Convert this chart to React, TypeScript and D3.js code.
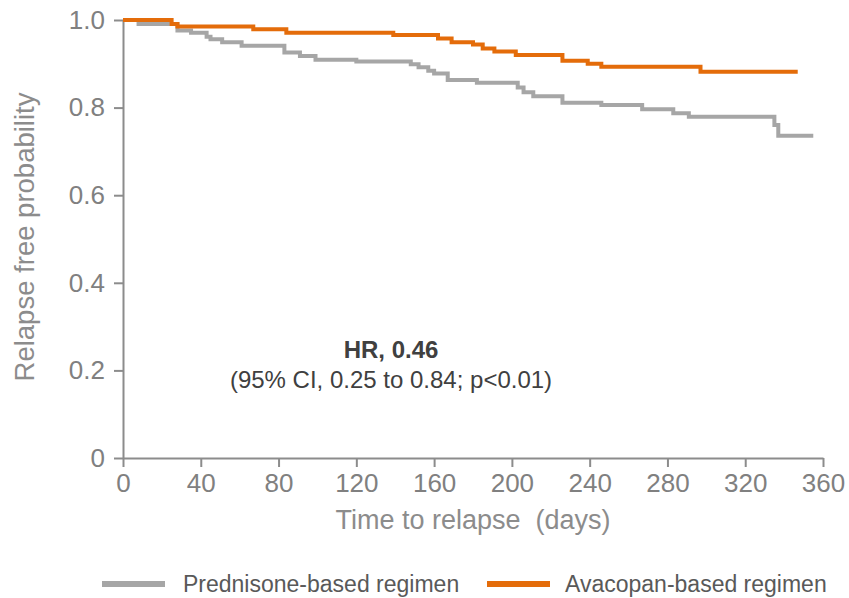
import React, { useEffect, useRef } from "react";
import * as d3 from "d3";

// Kaplan-Meier steps (day, survival)
const avacopanDays = [0, 25, 28, 67, 84, 139, 162, 169, 180, 185, 191, 202, 226, 239, 246, 297, 347];
const avacopanSurv = [1.0, 0.991, 0.985, 0.979, 0.971, 0.966, 0.958, 0.949, 0.944, 0.935, 0.928, 0.92, 0.907, 0.9, 0.893, 0.882, 0.882];

const prednisoneDays = [0, 8, 28, 35, 43, 45, 51, 61, 83, 91, 99, 120, 148, 152, 157, 160, 167, 182, 203, 206, 211, 226, 246, 267, 283, 291, 335, 337, 355];
const prednisoneSurv = [1.0, 0.991, 0.976, 0.971, 0.962, 0.956, 0.949, 0.941, 0.926, 0.918, 0.909, 0.905, 0.899, 0.892, 0.884, 0.878, 0.863, 0.857, 0.846, 0.835, 0.826, 0.811, 0.806, 0.796, 0.787, 0.779, 0.76, 0.736, 0.736];

const xTicks = [0, 40, 80, 120, 160, 200, 240, 280, 320, 360];
const yTicks = [0, 0.2, 0.4, 0.6, 0.8, 1.0];

const seriesNames = ["Prednisone-based regimen", "Avacopan-based regimen"];
const seriesColors = ["#a6a6a6", "#e46c0a"];

const width = 849;
const height = 598;
const font = "'Liberation Sans', Arial, sans-serif";
const axisColor = "#8c8c8c";

const App = () => {
  const ref = useRef<SVGSVGElement | null>(null);

  useEffect(() => {
    const svg = d3.select(ref.current);
    svg.selectAll("*").remove();

    const x = d3.scaleLinear().domain([0, 360]).range([123, 823]);
    const y = d3.scaleLinear().domain([0, 1]).range([458, 20]);

    const line = d3
      .line<[number, number]>()
      .x((d) => x(d[0]))
      .y((d) => y(d[1]))
      .curve(d3.curveStepAfter);

    const series = [
      d3.zip(prednisoneDays, prednisoneSurv) as [number, number][],
      d3.zip(avacopanDays, avacopanSurv) as [number, number][],
    ];

    // x axis
    const gx = svg
      .append("g")
      .attr("transform", `translate(0,${y(0)})`)
      .call(d3.axisBottom(x).tickValues(xTicks).tickSize(9).tickSizeOuter(0).tickFormat((d) => String(d)));
    gx.select(".domain").attr("stroke", axisColor).attr("stroke-width", 2);
    gx.selectAll(".tick line").attr("stroke", axisColor).attr("stroke-width", 2);
    gx.selectAll(".tick text")
      .attr("fill", "#808080")
      .attr("font-family", font)
      .attr("font-size", 26)
      .attr("dy", "0.71em")
      .attr("y", 16);

    // y axis
    const gy = svg
      .append("g")
      .attr("transform", `translate(${x(0)},0)`)
      .call(
        d3
          .axisLeft(y)
          .tickValues(yTicks)
          .tickSize(9)
          .tickSizeOuter(0)
          .tickFormat((d) => (+d === 0 ? "0" : d3.format(".1f")(+d)))
      );
    gy.select(".domain").attr("stroke", axisColor).attr("stroke-width", 2);
    gy.selectAll(".tick line").attr("stroke", axisColor).attr("stroke-width", 2);
    gy.selectAll(".tick text")
      .attr("fill", "#808080")
      .attr("font-family", font)
      .attr("font-size", 26)
      .attr("x", -18);

    // curves: grey first, orange on top
    svg
      .append("g")
      .selectAll("path")
      .data(series)
      .join("path")
      .attr("d", (d) => line(d))
      .attr("fill", "none")
      .attr("stroke", (d, i) => seriesColors[i])
      .attr("stroke-width", 4);

    // axis titles
    svg
      .append("text")
      .attr("x", 473)
      .attr("y", 529)
      .attr("text-anchor", "middle")
      .attr("font-family", font)
      .attr("font-size", 27)
      .attr("fill", "#8c8c8c")
      .style("white-space", "pre")
      .text("Time to relapse  (days)");

    svg
      .append("text")
      .attr("transform", `translate(34,237) rotate(-90)`)
      .attr("text-anchor", "middle")
      .attr("font-family", font)
      .attr("font-size", 27.5)
      .attr("fill", "#8c8c8c")
      .text("Relapse free probability");

    // hazard ratio annotation
    svg
      .append("text")
      .attr("x", 391)
      .attr("y", 358)
      .attr("text-anchor", "middle")
      .attr("font-family", font)
      .attr("font-size", 24)
      .attr("font-weight", "bold")
      .attr("fill", "#404040")
      .text("HR, 0.46");
    svg
      .append("text")
      .attr("x", 391)
      .attr("y", 388)
      .attr("text-anchor", "middle")
      .attr("font-family", font)
      .attr("font-size", 24)
      .attr("fill", "#404040")
      .text("(95% CI, 0.25 to 0.84; p<0.01)");

    // legend
    const legendX = [102, 487];
    const lg = svg
      .append("g")
      .selectAll("g")
      .data(seriesNames)
      .join("g")
      .attr("transform", (d, i) => `translate(${legendX[i]},584)`);
    lg.append("line")
      .attr("x1", 0)
      .attr("x2", 63)
      .attr("stroke", (d, i) => seriesColors[i])
      .attr("stroke-width", 6);
    lg.append("text")
      .attr("x", (d, i) => (i === 0 ? 81 : 78))
      .attr("dy", "0.35em")
      .attr("font-family", font)
      .attr("font-size", 23)
      .attr("fill", "#595959")
      .text((d) => d);
  }, []);

  return (
    <svg
      ref={ref}
      width={width}
      height={height}
      style={{ position: "absolute", left: 0, top: 0, background: "#fff" }}
    />
  );
};

export default App;
